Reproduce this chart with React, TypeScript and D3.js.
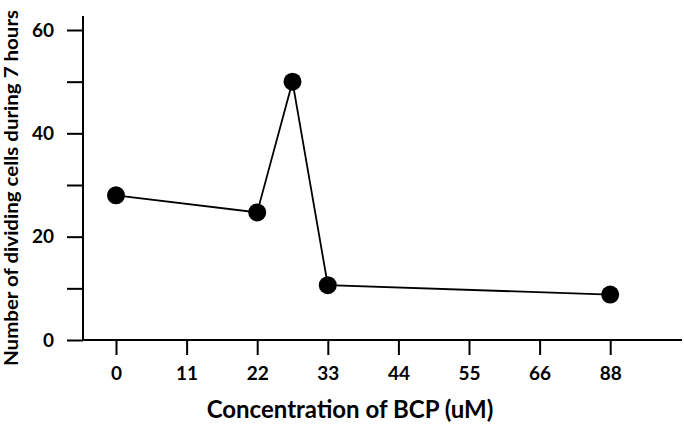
import React, { useEffect, useRef } from "react";
import * as d3 from "d3";

// concentration of BCP (uM) and number of dividing cells during 7 hours
const concentrations = [0, 22, 27.5, 33, 88];
const dividingCells = [28, 24.7, 50, 10.6, 8.8];
const xTickValues = [0, 11, 22, 33, 44, 55, 66, 88];
const yTickValues = [0, 10, 20, 30, 40, 50, 60];
const yLabelValues = [0, 20, 40, 60];

const FONT = "Lato, 'Open Sans', sans-serif";

const App: React.FC = () => {
  const svgRef = useRef<SVGSVGElement | null>(null);

  useEffect(() => {
    const svg = d3.select(svgRef.current);
    svg.selectAll("*").remove();

    const data = concentrations.map((c, i) => ({ x: c, y: dividingCells[i] }));

    const x0 = 116;
    const step = 70.6;
    // 77 is skipped on the original axis, so 88 sits one step after 66
    const xScale = d3
      .scaleLinear()
      .domain([0, 66, 88])
      .range([x0, x0 + 6 * step, x0 + 7 * step]);
    const yScale = d3.scaleLinear().domain([0, 60]).range([340, 30]);

    const axisX = 83;
    const axisY = yScale(0);

    // axis lines
    svg
      .append("line")
      .attr("x1", axisX)
      .attr("x2", axisX)
      .attr("y1", 16)
      .attr("y2", axisY + 1)
      .attr("stroke", "#000")
      .attr("stroke-width", 2);
    svg
      .append("line")
      .attr("x1", axisX - 1)
      .attr("x2", 682)
      .attr("y1", axisY)
      .attr("y2", axisY)
      .attr("stroke", "#000")
      .attr("stroke-width", 2);

    // y axis
    const yAxis = svg
      .append("g")
      .attr("transform", `translate(${axisX}, 0)`)
      .call(
        d3
          .axisLeft(yScale)
          .tickValues(yTickValues)
          .tickSize(16)
          .tickPadding(13)
          .tickFormat((d) => (yLabelValues.includes(Number(d)) ? String(d) : ""))
      );
    yAxis.select(".domain").remove();
    yAxis.selectAll("line").attr("stroke-width", 2);
    yAxis
      .selectAll("text")
      .style("font-family", FONT)
      .style("font-weight", "700")
      .style("font-size", "19px")
      .attr("fill", "#000");

    // x axis
    const xAxis = svg
      .append("g")
      .attr("transform", `translate(0, ${axisY})`)
      .call(
        d3
          .axisBottom(xScale)
          .tickValues(xTickValues)
          .tickSize(15)
          .tickPadding(12)
          .tickFormat((d) => String(d))
      );
    xAxis.select(".domain").remove();
    xAxis.selectAll("line").attr("stroke-width", 2);
    xAxis
      .selectAll("text")
      .style("font-family", FONT)
      .style("font-weight", "700")
      .style("font-size", "19px")
      .attr("fill", "#000");

    // line
    const line = d3
      .line<{ x: number; y: number }>()
      .x((d) => xScale(d.x))
      .y((d) => yScale(d.y));
    svg
      .append("path")
      .datum(data)
      .attr("d", line)
      .attr("fill", "none")
      .attr("stroke", "#000")
      .attr("stroke-width", 1.8);

    // points
    svg
      .selectAll(".dot")
      .data(data)
      .enter()
      .append("circle")
      .attr("class", "dot")
      .attr("cx", (d) => xScale(d.x))
      .attr("cy", (d) => yScale(d.y))
      .attr("r", 9)
      .attr("fill", "#000");

    // axis titles
    svg
      .append("text")
      .attr("x", 350)
      .attr("y", 418)
      .attr("text-anchor", "middle")
      .style("font-family", FONT)
      .style("font-weight", "700")
      .style("font-size", "24px")
      .text("Concentration of BCP (uM)");

    svg
      .append("text")
      .attr("transform", "rotate(-90)")
      .attr("x", -188)
      .attr("y", 18)
      .attr("text-anchor", "middle")
      .attr("textLength", 356)
      .attr("lengthAdjust", "spacingAndGlyphs")
      .style("font-family", FONT)
      .style("font-weight", "700")
      .style("font-size", "18px")
      .text("Number of dividing cells during 7 hours");
  }, []);

  return (
    <svg
      ref={svgRef}
      width={684}
      height={433}
      style={{ position: "absolute", left: 0, top: 0, background: "#fff" }}
    ></svg>
  );
};

export default App;
